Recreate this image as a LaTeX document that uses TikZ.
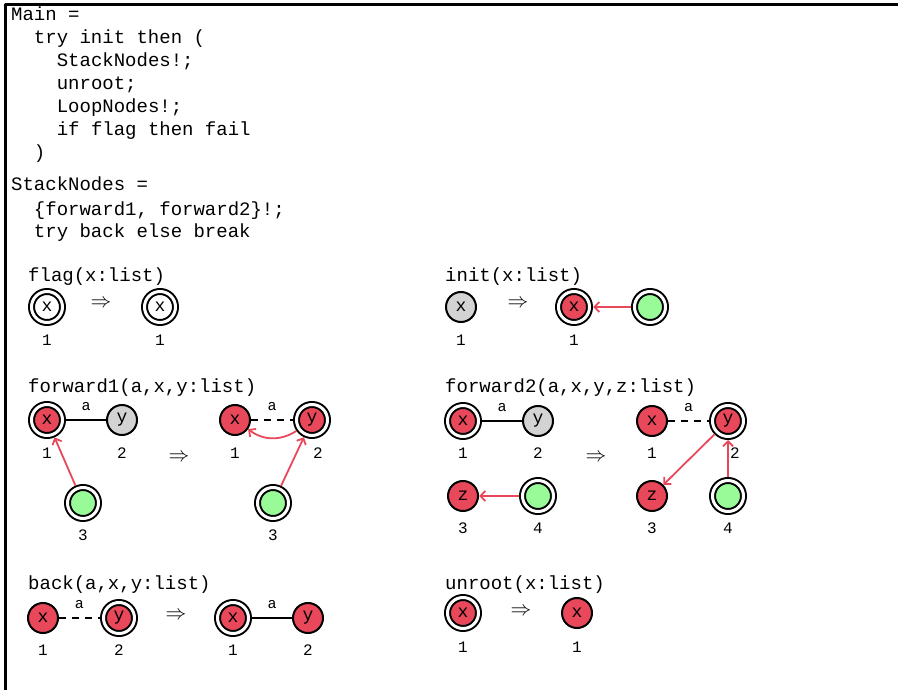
\documentclass[tikz,border=0pt]{standalone}
\usepackage{fontspec}
\setmonofont{Liberation Mono}
\usetikzlibrary{arrows.meta,positioning}
\definecolor{nodered}{RGB}{232,72,90}
\definecolor{nodegray}{RGB}{211,211,211}
\definecolor{nodegreen}{RGB}{152,251,152}

\begin{document}
\begin{tikzpicture}[x=1pt, y=-1pt, line join=round, >={Straight Barb[length=5pt,width=10pt]},
	code/.style={anchor=base west, inner sep=0pt, font=\ttfamily\fontsize{19}{19}\selectfont},
	vertex/.style={circle, draw, line width=2pt, minimum size=30pt, inner sep=0pt, font=\ttfamily\fontsize{18}{18}\selectfont},
	root/.style={vertex, double, double distance=3pt, minimum size=31pt, outer sep=3.5pt},
	redv/.style={fill=nodered},
	grayv/.style={fill=nodegray},
	greenv/.style={fill=nodegreen},
	num/.style={inner sep=0pt, font=\ttfamily\fontsize{16}{16}\selectfont},
	elabel/.style={above=8pt, inner sep=0pt, font=\ttfamily\fontsize{15}{15}\selectfont},
	link/.style={line width=2pt},
	dlink/.style={link, dash pattern=on 7pt off 6pt},
	track/.style={->, draw=nodered, line width=1.8pt},
	imp/.style={font=\fontsize{22}{22}\selectfont}]
	\useasboundingbox (0,0) rectangle (898,690);
	% frame
	\draw[line width=2.4pt] (5.5,690) -- (5.5,4.5) -- (898,4.5);
	% program text
	\node[code] (m1) at (11,21) {Main =};
	\node[code] (m2) at (33.8,44) {try init then (};
	\node[code] (m3) at (56.6,67) {StackNodes!;};
	\node[code] (m4) at (56.6,90) {unroot;};
	\node[code] (m5) at (56.6,113) {LoopNodes!;};
	\node[code] (m6) at (56.6,136) {if flag then fail};
	\node[code] (m7) at (33.8,159) {)};
	\node[code] (s1) at (11,191) {StackNodes =};
	\node[code] (s2) at (33.8,215) {\{forward1, forward2\}!;};
	\node[code] (s3) at (33.8,238) {try back else break};

	% flag
	\node[code] (flag) at (28,281) {flag(x:list)};
	\node[root] (flL) at (47,307) {x};
	\node[imp] (flI) at (101,304) {$\Rightarrow$};
	\node[root] (flR) at (160,307) {x};
	\node[num] (flLn) at (47,340) {1};
	\node[num] (flRn) at (160,340) {1};

	% init
	\node[code] (init) at (445,281) {init(x:list)};
	\node[vertex, grayv] (inL) at (461,307) {x};
	\node[imp] (inI) at (518,304) {$\Rightarrow$};
	\node[root, redv] (inR) at (574,307) {x};
	\node[root, greenv] (inG) at (650,307) {};
	\draw[track] (inG) -- (inR);
	\node[num] (inLn) at (461,340) {1};
	\node[num] (inRn) at (574,340) {1};

	% forward1
	\node[code] (fwa) at (28,392) {forward1(a,x,y:list)};
	\node[root, redv] (faX) at (47,420) {x};
	\node[vertex, grayv] (faY) at (122,420) {y};
	\node[root, greenv] (faG) at (83,503) {};
	\draw[link] (faX) -- node[elabel] {a} (faY);
	\draw[track] (faG) -- (faX);
	\node[imp] (faI) at (179,458) {$\Rightarrow$};
	\node[vertex, redv] (faX') at (235,420) {x};
	\node[root, redv] (faY') at (312,420) {y};
	\node[root, greenv] (faG') at (273,503) {};
	\draw[dlink] (faX') -- node[elabel] {a} (faY');
	\draw[track] (faY') to[bend left=35] (faX');
	\draw[track] (faG') -- (faY');
	\node[num] (faXn) at (47,453) {1};
	\node[num] (faYn) at (122,453) {2};
	\node[num] (faGn) at (83,535) {3};
	\node[num] (faXn') at (235,453) {1};
	\node[num] (faYn') at (318,453) {2};
	\node[num] (faGn') at (273,535) {3};

	% forward2
	\node[code] (fwb) at (445,392) {forward2(a,x,y,z:list)};
	\node[root, redv] (fbX) at (463,421) {x};
	\node[vertex, grayv] (fbY) at (538,421) {y};
	\node[vertex, redv] (fbZ) at (463,496) {z};
	\node[root, greenv] (fbG) at (538,496) {};
	\draw[link] (fbX) -- node[elabel] {a} (fbY);
	\draw[track] (fbG) -- (fbZ);
	\node[imp] (fbI) at (596,458) {$\Rightarrow$};
	\node[vertex, redv] (fbX') at (652,421) {x};
	\node[root, redv] (fbY') at (728,421) {y};
	\node[vertex, redv] (fbZ') at (652,496) {z};
	\node[root, greenv] (fbG') at (728,496) {};
	\draw[dlink] (fbX') -- node[elabel] {a} (fbY');
	\draw[track] (fbY') -- (fbZ');
	\draw[track] (fbG') -- (fbY');
	\node[num] (fbXn) at (463,453) {1};
	\node[num] (fbYn) at (538,453) {2};
	\node[num] (fbZn) at (463,528) {3};
	\node[num] (fbGn) at (538,528) {4};
	\node[num] (fbXn') at (652,453) {1};
	\node[num] (fbYn') at (735,453) {2};
	\node[num] (fbZn') at (652,528) {3};
	\node[num] (fbGn') at (728,528) {4};

	% back
	\node[code] (back) at (28,589) {back(a,x,y:list)};
	\node[vertex, redv] (bkX) at (43,618) {x};
	\node[root, redv] (bkY) at (119,618) {y};
	\draw[dlink] (bkX) -- node[elabel] {a} (bkY);
	\node[imp] (bkI) at (176,616) {$\Rightarrow$};
	\node[root, redv] (bkX') at (233,618) {x};
	\node[vertex, redv] (bkY') at (308,618) {y};
	\draw[link] (bkX') -- node[elabel] {a} (bkY');
	\node[num] (bkXn) at (43,650) {1};
	\node[num] (bkYn) at (119,650) {2};
	\node[num] (bkXn') at (233,650) {1};
	\node[num] (bkYn') at (308,650) {2};

	% unroot
	\node[code] (unr) at (445,589) {unroot(x:list)};
	\node[root, redv] (urL) at (463,613) {x};
	\node[imp] (urI) at (521,612) {$\Rightarrow$};
	\node[vertex, redv] (urR) at (577,613) {x};
	\node[num] (urLn) at (463,647) {1};
	\node[num] (urRn) at (577,647) {1};
\end{tikzpicture}
\end{document}
